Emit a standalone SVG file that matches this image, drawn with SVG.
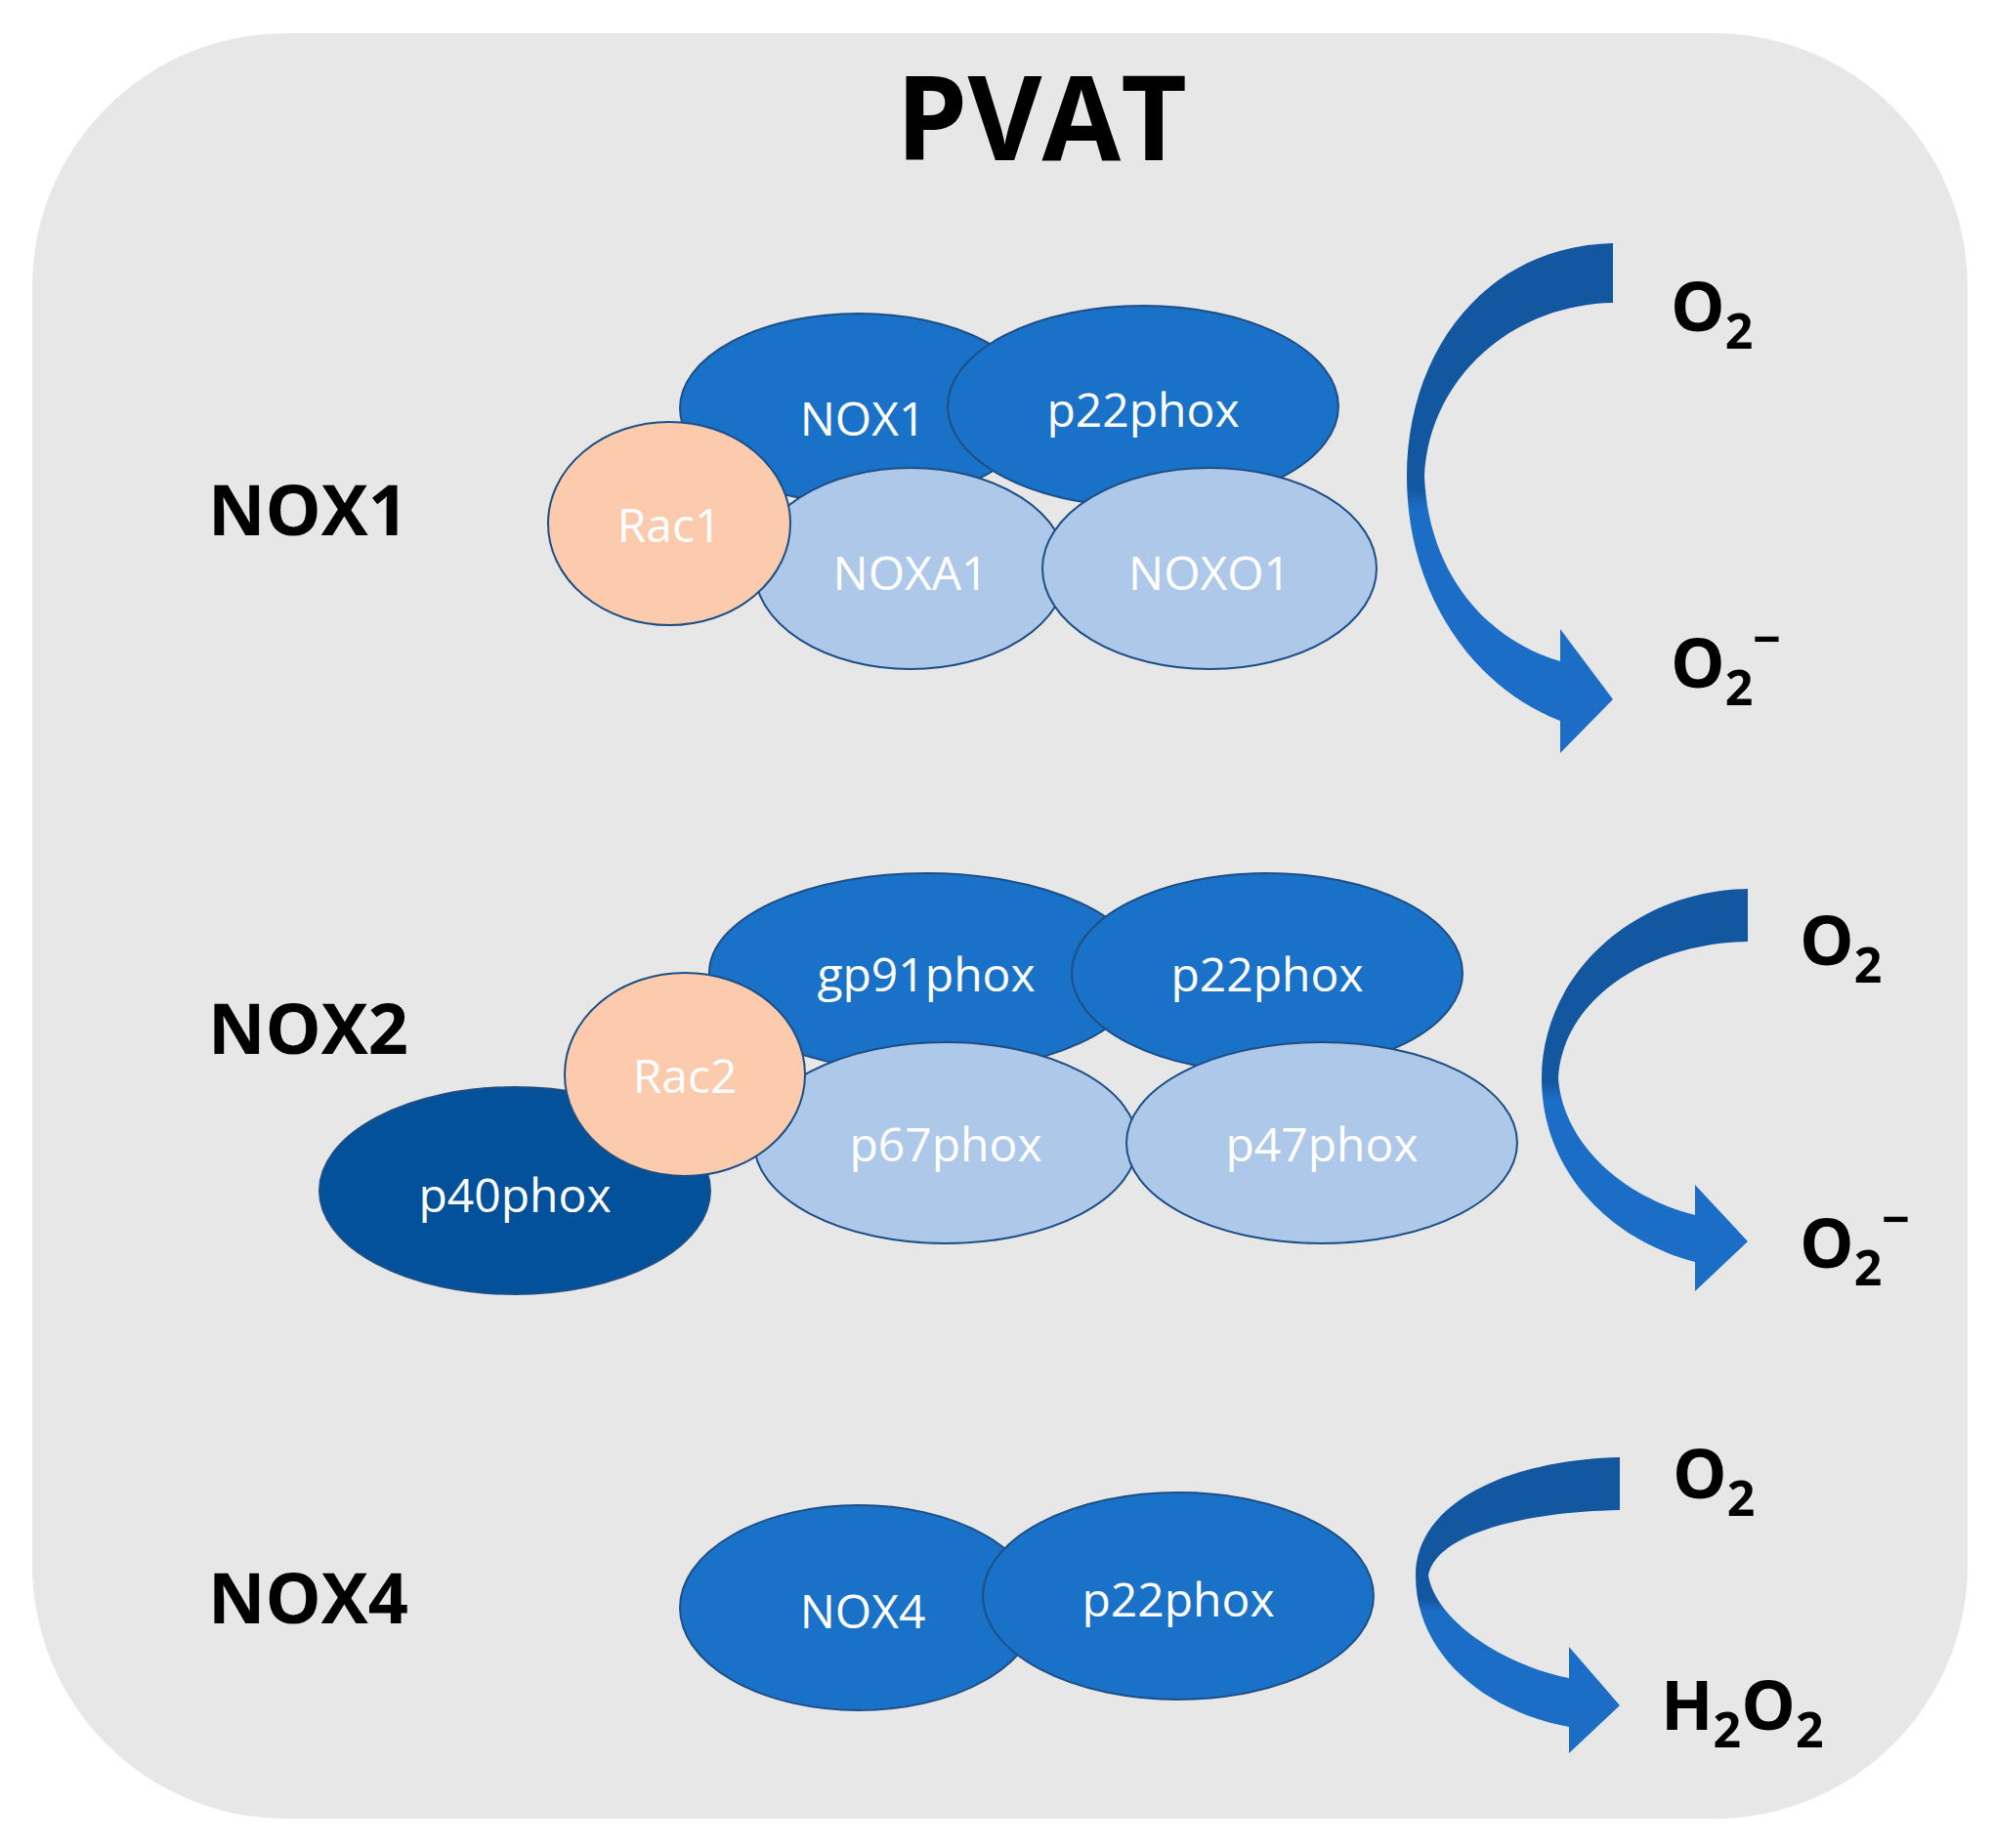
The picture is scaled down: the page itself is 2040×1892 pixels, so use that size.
<svg xmlns="http://www.w3.org/2000/svg" width="2040" height="1892" viewBox="0 0 2040 1892">
<style>
.d{fill:#1a71c8;stroke:#1d4f86;stroke-width:2}
.l{fill:#aec8e9;stroke:#1d4f86;stroke-width:2}
.r{fill:#fccbad;stroke:#1d4f86;stroke-width:2}
.n{fill:#03519b;stroke:#1d4f86;stroke-width:2}
.t{font-family:"Open Sans","Liberation Sans",sans-serif;font-size:48px;fill:#fff;text-anchor:middle;dominant-baseline:central}
.lab{font-family:"Open Sans","Liberation Sans",sans-serif;font-weight:bold;font-size:72px;fill:#000}
.o{font-family:"Open Sans","Liberation Sans",sans-serif;font-weight:bold;font-size:70px;fill:#000}
.ar{fill:url(#g)}
</style>
<defs>
<linearGradient id="g" x1="0" y1="0" x2="0" y2="1">
<stop offset="0" stop-color="#1357a0"/><stop offset="0.48" stop-color="#1357a0"/><stop offset="0.52" stop-color="#1c6dc6"/><stop offset="1" stop-color="#1c6dc6"/>
</linearGradient>
</defs>
<rect x="33" y="34" width="1981" height="1828" rx="260" ry="260" fill="#e7e7e7"/>
<text x="1066" y="164" font-family="Open Sans, Liberation Sans, sans-serif" font-weight="bold" font-size="120" text-anchor="middle" textLength="298" lengthAdjust="spacingAndGlyphs">PVAT</text>
<text class="lab" x="213" y="548">NOX1</text>
<text class="lab" x="213" y="1079">NOX2</text>
<text class="lab" x="213" y="1662">NOX4</text>
<g id="nox1">
<ellipse class="d" cx="879" cy="418" rx="183" ry="97"/>
<ellipse class="d" cx="1170" cy="416" rx="200" ry="103"/>
<ellipse class="l" cx="932" cy="582" rx="160" ry="103"/>
<ellipse class="l" cx="1238" cy="582" rx="171" ry="103"/>
<ellipse class="r" cx="685" cy="536" rx="124" ry="104"/>
<text class="t" x="883" y="427">NOX1</text>
<text class="t" x="1170" y="418">p22phox</text>
<text class="t" x="932" y="585">NOXA1</text>
<text class="t" x="1238" y="585">NOXO1</text>
<text class="t" x="685" y="536">Rac1</text>
</g>
<g id="nox2">
<ellipse class="d" cx="948" cy="996" rx="222" ry="102"/>
<ellipse class="d" cx="1297" cy="996" rx="200" ry="102"/>
<ellipse class="l" cx="968" cy="1170" rx="196" ry="103"/>
<ellipse class="l" cx="1353" cy="1170" rx="200" ry="103"/>
<ellipse class="n" cx="527" cy="1219" rx="200" ry="106"/>
<ellipse class="r" cx="701" cy="1100" rx="123" ry="104"/>
<text class="t" x="948" y="996">gp91phox</text>
<text class="t" x="1297" y="996">p22phox</text>
<text class="t" x="968" y="1170">p67phox</text>
<text class="t" x="1353" y="1170">p47phox</text>
<text class="t" x="527" y="1222">p40phox</text>
<text class="t" x="701" y="1100">Rac2</text>
</g>
<g id="nox4">
<ellipse class="d" cx="879" cy="1646" rx="183" ry="105"/>
<ellipse class="d" cx="1206" cy="1634" rx="200" ry="106"/>
<text class="t" x="883" y="1648">NOX4</text>
<text class="t" x="1206" y="1636">p22phox</text>
</g>
<g id="connectors">
<path class="ar" d="M1651,249 C1520,252 1440,360 1440,488 C1440,610 1510,705 1597,738 L1597,771 L1651,716 L1597,644 L1597,677 C1520,655 1462,585 1458,488 C1462,390 1545,312 1651,310 Z"/>
<path class="ar" d="M1789,910 C1670,912 1578,1000 1578,1104 C1578,1200 1650,1270 1735,1292 L1735,1322 L1789,1271 L1735,1213 L1735,1244 C1660,1225 1600,1170 1595,1104 C1600,1020 1690,966 1789,964 Z"/>
<path class="ar" d="M1658,1492 C1540,1495 1449,1540 1449,1613 C1449,1700 1530,1755 1606,1768 L1606,1795 L1658,1746 L1606,1686 L1606,1718 C1540,1705 1470,1660 1462,1613 C1470,1570 1560,1548 1658,1546 Z"/>
</g>
<text class="o" x="1710" y="339">O<tspan font-size="50" dy="18">2</tspan></text>
<text class="o" x="1710" y="704">O<tspan font-size="50" dy="18">2</tspan><tspan font-size="50" dy="-50">−</tspan></text>
<text class="o" x="1842" y="988">O<tspan font-size="50" dy="18">2</tspan></text>
<text class="o" x="1842" y="1298">O<tspan font-size="50" dy="18">2</tspan><tspan font-size="50" dy="-50">−</tspan></text>
<text class="o" x="1712" y="1534">O<tspan font-size="50" dy="18">2</tspan></text>
<text class="o" x="1700" y="1771">H<tspan font-size="50" dy="18">2</tspan><tspan dy="-18">O</tspan><tspan font-size="50" dy="18">2</tspan></text>
</svg>
